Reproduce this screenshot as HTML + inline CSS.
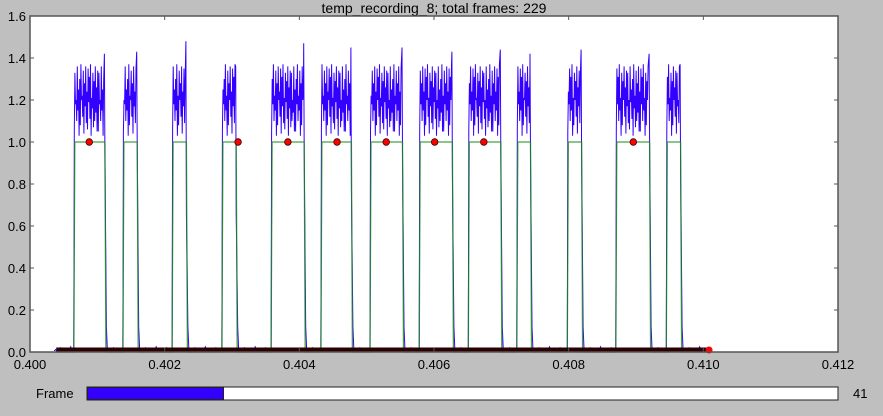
<!DOCTYPE html>
<html><head><meta charset="utf-8">
<style>
body{margin:0;background:#bfbfbf;width:883px;height:416px;overflow:hidden;font-family:"Liberation Sans",sans-serif;}
svg{position:absolute;left:0;top:0}
</style></head>
<body>
<svg id="chart" width="883" height="416">
<text x="434" y="13" text-anchor="middle" font-size="14" fill="#000">temp_recording_8; total frames: 229</text>
<rect x="30" y="16" width="808" height="336" fill="#fff"/>
<g id="marks"></g>
<rect x="30" y="16" width="808" height="336" fill="none" stroke="#555" stroke-width="1.5"/>
<g id="axes"></g>
<text x="36" y="398" font-size="13">Frame</text>
<rect x="87" y="387" width="751" height="13" fill="#fff" stroke="#222" stroke-width="1"/>
<rect x="87.5" y="387.5" width="136" height="12" fill="#3300ff" stroke="#222" stroke-width="1"/>
<text x="853" y="398" font-size="13">41</text>
</svg>
<script>
const xTicks=[0.400,0.402,0.404,0.406,0.408,0.410,0.412];
const xTickLabels=["0.400","0.402","0.404","0.406","0.408","0.410","0.412"];
const yTicks=[0,0.2,0.4,0.6,0.8,1.0,1.2,1.4,1.6];
const yTickLabels=["0.0","0.2","0.4","0.6","0.8","1.0","1.2","1.4","1.6"];
const pulseStarts=[0.40065,0.40138,0.40211,0.40285,0.40358,0.40432,0.40505,0.40578,0.40651,0.40723,0.40798,0.40870,0.40945];
const pulseEnds=[0.40112,0.40160,0.40233,0.40307,0.40408,0.40478,0.40554,0.40628,0.40700,0.40744,0.40820,0.40921,0.40967];
const pulsePeaks=[1.42,1.43,1.48,1.36,1.47,1.45,1.45,1.43,1.44,1.42,1.44,1.42,1.37];
const pulseEndDips=[0.95,1.0,0.66,0.66,0.95,0.77,0.95,0.85,0.95,0.95,0.95,1.0,0.85];
const wiggleHigh=[1.33,1.2,1.36,1.25,1.3,1.37,1.22,1.34,1.28,1.36,1.24,1.35,1.31,1.37,1.21,1.33,1.29,1.36,1.26,1.34];
const wiggleLow=[1.05,1.18,1.1,1.15,1.03,1.08,1.2,1.12,1.04,1.17,1.09,1.06,1.19,1.11,1.03,1.16,1.07,1.1,1.14,1.05];
const dotTimes=[0.40088,0.40309,0.40383,0.40456,0.40529,0.40601,0.40674,0.40896];
const dotValues=[1,1,1,1,1,1,1,1];
const baseStart=0.40036, baseEnd=0.41010;
const noise=[0.005,0.012,0.0,0.008,0.02,0.004,0.0,0.015,0.006,0.0,0.01,0.025,0.003,0.007];

const X=t=>30+(t-0.400)/0.012*808;
const Y=v=>352-v/1.6*336;
const NS="http://www.w3.org/2000/svg";
const marks=document.getElementById('marks'), axes=document.getElementById('axes');
function mk(tag,attrs,parent){const e=document.createElementNS(NS,tag);for(const k in attrs)e.setAttribute(k,attrs[k]);parent.appendChild(e);return e;}

xTicks.forEach((t,i)=>{
  const x=X(t);
  const tk=mk('line',{x1:x,x2:x,y1:352,y2:348,stroke:'#555'},axes);
  
  
  mk('line',{x1:x,x2:x,y1:16,y2:20,stroke:'#555'},axes);
  const lb=mk('text',{x:x,y:369,'text-anchor':'middle','font-size':13},axes);
  lb.textContent=xTickLabels[i];
  
  
});
yTicks.forEach((v,i)=>{
  const y=Y(v);
  const tk=mk('line',{x1:30,x2:34,y1:y,y2:y,stroke:'#555'},axes);
  
  
  mk('line',{x1:838,x2:834,y1:y,y2:y,stroke:'#555'},axes);
  const lb=mk('text',{x:26,y:y+5,'text-anchor':'end','font-size':13},axes);
  lb.textContent=yTickLabels[i];
  
  
});

let pts=[];
let cur=X(baseStart);
pulseStarts.forEach((s,i)=>{
  const xs=X(s), xe=X(pulseEnds[i]);
  let k=0;
  for(let x=cur;x<xs-1;x+=1.5){pts.push([x,Y(noise[k++%noise.length])]);}
  pts.push([xs,Y(0.02)]);
  let j=0;
  for(let x=xs+0.5;x<xe-1.5;x+=0.6){
    pts.push([x,Y(wiggleLow[j%wiggleLow.length])]);
    x+=0.6;
    pts.push([x,Y(wiggleHigh[(j+i)%wiggleHigh.length])]);
    j++;
  }
  pts.push([xe-1,Y(pulsePeaks[i])]);
  pts.push([xe-0.5,Y(pulseEndDips[i])]);
  pts.push([xe+1,Y(0.12)]);
  cur=xe+2;
});
let k=0;
for(let x=cur;x<X(baseEnd);x+=1.5){pts.push([x,Y(noise[k++%noise.length])]);}
const blue=mk('polyline',{points:pts.map(p=>p[0].toFixed(1)+','+p[1].toFixed(1)).join(' '),fill:'none',stroke:'#3300ff','stroke-width':1},marks);



let g=[[X(baseStart),Y(0)]];
pulseStarts.forEach((s,i)=>{
  g.push([X(s),Y(0)],[X(s)+1,Y(1)],[X(pulseEnds[i])-0.5,Y(1)],[X(pulseEnds[i])+0.5,Y(0)]);
});
g.push([X(baseEnd),Y(0)]);
const green=mk('polyline',{points:g.map(p=>p[0].toFixed(1)+','+p[1].toFixed(1)).join(' '),fill:'none',stroke:'#1a8a1a','stroke-width':1.3,'stroke-opacity':0.8},marks);



const base=mk('line',{x1:X(baseStart)+2,x2:X(baseEnd),y1:350,y2:350,stroke:'#2a0000','stroke-width':5},marks);


const endDot=mk('circle',{cx:X(baseEnd)-1,cy:350,r:3.5,fill:'#ff0000'},marks);



dotTimes.forEach((t,i)=>{
  const c=mk('circle',{cx:X(t),cy:Y(dotValues[i]),r:3.3,fill:'#ff0000',stroke:'#400','stroke-width':0.8},marks);
  
  
});
</script>
</body></html>
